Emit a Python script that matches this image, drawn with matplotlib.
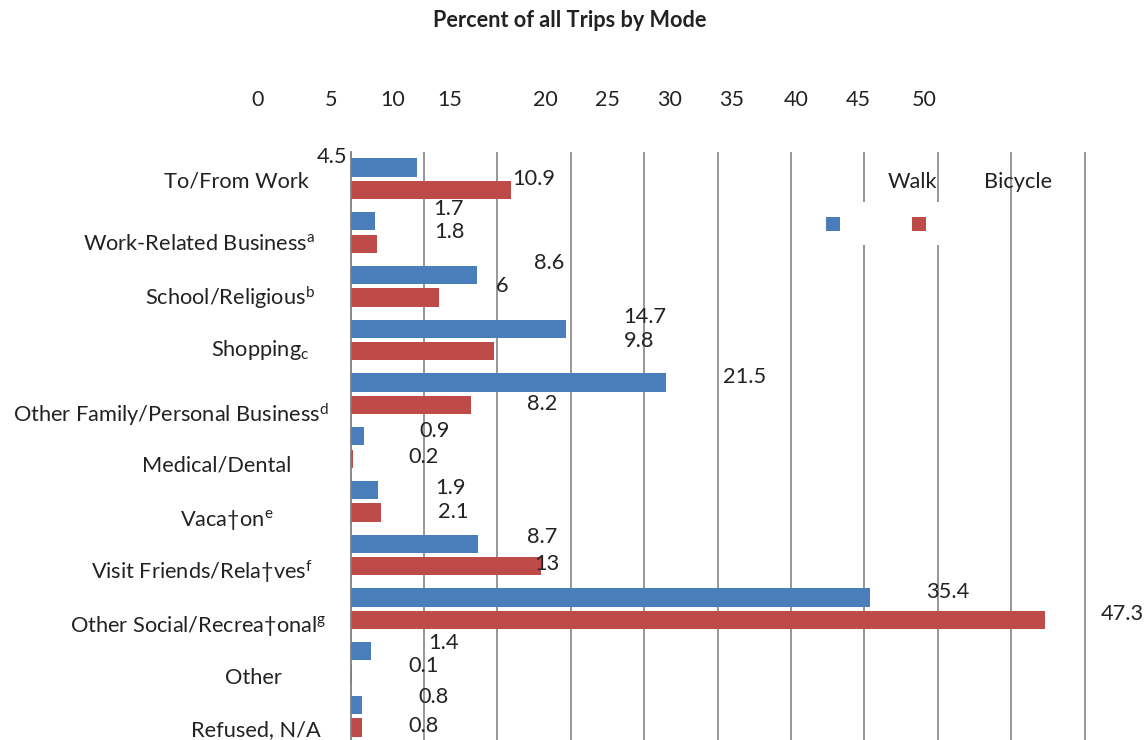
import numpy as np
import matplotlib
matplotlib.use("Agg")
import matplotlib.pyplot as plt
from matplotlib.patches import Rectangle

# ---------------- data ----------------
categories = [
    "To/From Work",
    "Work-Related Business$^{\\mathrm{a}}$",
    "School/Religious$^{\\mathrm{b}}$",
    "Shopping$_{\\mathrm{c}}$",
    "Other Family/Personal Business$^{\\mathrm{d}}$",
    "Medical/Dental",
    "Vaca\u2020on$^{\\mathrm{e}}$",
    "Visit Friends/Rela\u2020ves$^{\\mathrm{f}}$",
    "Other Social/Recrea\u2020onal$^{\\mathrm{g}}$",
    "Other",
    "Refused, N/A",
]
walk = [4.5, 1.7, 8.6, 14.7, 21.5, 0.9, 1.9, 8.7, 35.4, 1.4, 0.8]
bicycle = [10.9, 1.8, 6, 9.8, 8.2, 0.2, 2.1, 13, 47.3, 0.1, 0.8]
walk_labels = ["4.5", "1.7", "8.6", "14.7", "21.5", "0.9", "1.9", "8.7", "35.4", "1.4", "0.8"]
bicycle_labels = ["10.9", "1.8", "6", "9.8", "8.2", "0.2", "2.1", "13", "47.3", "0.1", "0.8"]
series_names = ["Walk", "Bicycle"]
top_tick_labels = ["0", "5", "10", "15", "20", "25", "30", "35", "40", "45", "50"]
title = "Percent of all Trips by Mode"

# ---------------- layout / style ----------------
W, H = 1148, 740
BLUE = "#4a7ebb"
RED = "#be4b48"
GRID = "#8f8f8f"
TXT = "#222222"
FONT = ["Lato", "DejaVu Sans"]

plt.rcParams["font.family"] = FONT
plt.rcParams["mathtext.fontset"] = "custom"
plt.rcParams["mathtext.rm"] = "Lato"
plt.rcParams["mathtext.it"] = "Lato:italic"
plt.rcParams["mathtext.bf"] = "Lato:bold"

fig = plt.figure(figsize=(W / 100, H / 100), dpi=100)
fig.patch.set_facecolor("white")

def fx(px):
    return px / W

def fy(py):
    return 1 - py / H

x_left, x_right = 350.5, 1087.5
y_top, y_bot = 152, 743
ax = fig.add_axes([fx(x_left), fy(y_bot), fx(x_right) - fx(x_left), (y_bot - y_top) / H])
ax.set_xlim(0, 50.2)
n = len(categories)
ax.set_ylim(n - 0.5, -0.5)

y = np.arange(n)
off = 0.21
bh = 0.34
ax.barh(y - off, walk, height=bh, color=BLUE, zorder=2)
ax.barh(y + off, bicycle, height=bh, color=RED, zorder=2)

ax.set_xticks(np.arange(5, 51, 5))
ax.xaxis.grid(True, color=GRID, linewidth=1.3, zorder=1)
ax.set_axisbelow(True)
ax.tick_params(axis="both", length=0, labelbottom=False, labelleft=False)
for s in ["top", "right", "bottom"]:
    ax.spines[s].set_visible(False)
ax.spines["left"].set_color("#7f7f7f")
ax.spines["left"].set_linewidth(1.3)
ax.set_yticks([])

# value labels (offsets in pixels from bar end, as in the reference)
walk_off = [(-100, 12.5), (58, 14.5), (57, 14.2), (57, 13.6), (57, 7.3), (56, 7),
            (57, 3.7), (49, 9.1), (56, 7.1), (57, 10.1), (56, 9.5)]
bike_off = [(2, 13.1), (57, 13.8), (57, 13.5), (129, 11.9), (56, 3.2), (55, 3.6),
            (57, 3), (-7, 4.3), (55.5, 8.1), (56, 9.2), (46, 3.9)]
VFS = 15.7
for i in range(n):
    ax.annotate(walk_labels[i], xy=(walk[i], y[i] - off), xytext=walk_off[i],
                textcoords="offset pixels", ha="left", va="center_baseline",
                fontsize=VFS, color=TXT, annotation_clip=False, zorder=5)
    ax.annotate(bicycle_labels[i], xy=(bicycle[i], y[i] + off), xytext=bike_off[i],
                textcoords="offset pixels", ha="left", va="center_baseline",
                fontsize=VFS, color=TXT, annotation_clip=False, zorder=5)

# category labels (right edges / vertical drift as in reference)
cat_dx = [-41.5, -35.5, -35.5, -41.5, -21.5, -59.5, -77.5, -37.5, -24.5, -68.5, -29.5]
cat_dy = [1.1, 9.1, 8.7, 6.7, 18, 15.6, 15.9, 14.2, 14.2, 13.8, 11.8]
for i in range(n):
    ax.annotate(categories[i], xy=(0, y[i]), xytext=(cat_dx[i], -cat_dy[i]),
                textcoords="offset pixels", ha="right", va="center_baseline",
                fontsize=VFS, color=TXT, annotation_clip=False)

# top tick labels (shifted as in reference)
tick_px = [257.7, 331, 393, 450, 545, 607.6, 670, 732, 796, 858, 924.6]
for lab, px in zip(top_tick_labels, tick_px):
    fig.text(fx(px), fy(98), lab, ha="center", va="center_baseline",
             fontsize=15.5, color=TXT)

# title
fig.text(fx(569.6), fy(18.3), title, ha="center", va="center_baseline",
         fontsize=15.6, fontweight="bold", color=TXT)

# legend
fig.add_artist(Rectangle((fx(800), fy(245)), fx(1000) - fx(800), (245 - 202) / H,
                         transform=fig.transFigure, facecolor="white", edgecolor="none", zorder=3))
for col, cx in [(BLUE, 832.5), (RED, 919)]:
    fig.add_artist(Rectangle((fx(cx - 7), fy(223.7 + 7)), 14 / W, 14 / H,
                             transform=fig.transFigure, facecolor=col, edgecolor="none", zorder=4))
fig.text(fx(888), fy(180), series_names[0], ha="left", va="center_baseline",
         fontsize=VFS, color=TXT, zorder=5)
fig.text(fx(984), fy(180), series_names[1], ha="left", va="center_baseline",
         fontsize=VFS, color=TXT, zorder=5)

fig.savefig("out.png", dpi=100, facecolor="white")
